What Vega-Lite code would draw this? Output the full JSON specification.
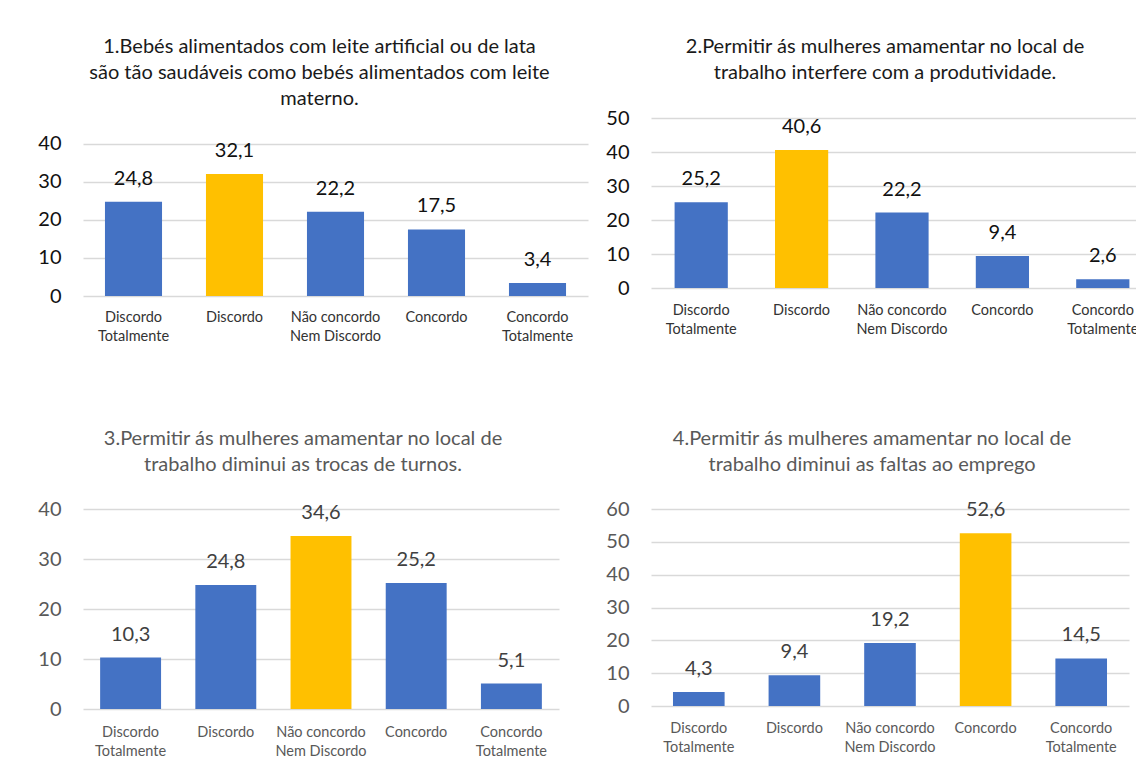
{
  "$schema": "https://vega.github.io/schema/vega-lite/v6.json",
  "background": "white",
  "padding": {"left": 37, "top": 37, "right": 0, "bottom": 0},
  "config": {
    "locale": {"number": {"decimal": ",", "thousands": ".", "grouping": [3], "currency": ["R$", ""]}},
    "view": {"stroke": null},
    "font": "Lato",
    "axisX": {
      "grid": false, "domain": false, "ticks": false, "labelAngle": 0,
      "labelFontSize": 14.5, "labelLineHeight": 19, "labelOverlap": false, "labelBaseline": "top",
      "labelExpr": "datum.label == 'Discordo Totalmente' ? ['Discordo', 'Totalmente'] : datum.label == 'Concordo Totalmente' ? ['Concordo', 'Totalmente'] : datum.label == 'Não  concordo Nem Discordo' ? ['Não  concordo', 'Nem Discordo'] : datum.label"
    },
    "axisY": {
      "grid": true, "gridColor": "#D9D9D9", "gridWidth": 1.5, "domain": false, "ticks": false,
      "labelFontSize": 20, "labelPadding": 22
    }
  },
  "datasets": {
    "q1": [
      {"resposta": "Discordo Totalmente", "pct": 24.8},
      {"resposta": "Discordo", "pct": 32.1},
      {"resposta": "Não  concordo Nem Discordo", "pct": 22.2},
      {"resposta": "Concordo", "pct": 17.5},
      {"resposta": "Concordo Totalmente", "pct": 3.4}
    ],
    "q2": [
      {"resposta": "Discordo Totalmente", "pct": 25.2},
      {"resposta": "Discordo", "pct": 40.6},
      {"resposta": "Não  concordo Nem Discordo", "pct": 22.2},
      {"resposta": "Concordo", "pct": 9.4},
      {"resposta": "Concordo Totalmente", "pct": 2.6}
    ],
    "q3": [
      {"resposta": "Discordo Totalmente", "pct": 10.3},
      {"resposta": "Discordo", "pct": 24.8},
      {"resposta": "Não  concordo Nem Discordo", "pct": 34.6},
      {"resposta": "Concordo", "pct": 25.2},
      {"resposta": "Concordo Totalmente", "pct": 5.1}
    ],
    "q4": [
      {"resposta": "Discordo Totalmente", "pct": 4.3},
      {"resposta": "Discordo", "pct": 9.4},
      {"resposta": "Não  concordo Nem Discordo", "pct": 19.2},
      {"resposta": "Concordo", "pct": 52.6},
      {"resposta": "Concordo Totalmente", "pct": 14.5}
    ]
  },
  "bounds": "flush",
  "spacing": 391,
  "vconcat": [
    {
      "bounds": "flush",
      "spacing": 63,
      "hconcat": [
        {
          "width": 505, "height": 178,
          "title": {"text": ["1.Bebés alimentados com leite artificial ou de lata", "são tão saudáveis como bebés alimentados com leite", "materno."], "dx": -16, "offset": 9, "fontSize": 20, "lineHeight": 26, "color": "#1a1a1a", "fontWeight": "normal", "font": "Lato"},
          "data": {"name": "q1"},
          "transform": [{"joinaggregate": [{"op": "max", "field": "pct", "as": "maximo"}]}],
          "encoding": {
            "x": {"field": "resposta", "type": "nominal", "sort": ["Discordo Totalmente", "Discordo", "Não  concordo Nem Discordo", "Concordo", "Concordo Totalmente"], "scale": {"paddingInner": 0.435, "paddingOuter": 0.2175}, "axis": {"title": null, "labelPadding": 14, "labelColor": "#333333"}},
            "y": {"field": "pct", "type": "quantitative", "scale": {"domain": [0, 46.84], "nice": false}, "axis": {"title": null, "values": [0, 10, 20, 30, 40], "labelColor": "#111111"}}
          },
          "layer": [
            {"mark": {"type": "bar"}, "encoding": {"color": {"condition": {"test": "datum.pct == datum.maximo", "value": "#FFC000"}, "value": "#4472C4"}}},
            {"mark": {"type": "text", "dy": -17, "baseline": "alphabetic", "fontSize": 20, "color": "#111111"}, "encoding": {"text": {"field": "pct", "type": "quantitative", "format": ".1f"}}}
          ]
        },
        {
          "width": 502, "height": 178,
          "title": {"text": ["2.Permitir ás mulheres amamentar no local de", "trabalho interfere com a produtividade."], "dx": -17, "offset": 25, "fontSize": 20, "lineHeight": 26, "color": "#1a1a1a", "fontWeight": "normal", "font": "Lato"},
          "data": {"name": "q2"},
          "transform": [{"joinaggregate": [{"op": "max", "field": "pct", "as": "maximo"}]}],
          "encoding": {
            "x": {"field": "resposta", "type": "nominal", "sort": ["Discordo Totalmente", "Discordo", "Não  concordo Nem Discordo", "Concordo", "Concordo Totalmente"], "scale": {"paddingInner": 0.47, "paddingOuter": 0.235}, "axis": {"title": null, "labelPadding": 7, "labelColor": "#333333"}},
            "y": {"field": "pct", "type": "quantitative", "scale": {"domain": [-2.35, 50], "nice": false}, "axis": {"title": null, "values": [0, 10, 20, 30, 40, 50], "labelColor": "#111111"}}
          },
          "layer": [
            {"mark": {"type": "bar"}, "encoding": {"color": {"condition": {"test": "datum.pct == datum.maximo", "value": "#FFC000"}, "value": "#4472C4"}}},
            {"mark": {"type": "text", "dy": -17, "baseline": "alphabetic", "fontSize": 20, "color": "#111111"}, "encoding": {"text": {"field": "pct", "type": "quantitative", "format": ".1f"}}}
          ]
        }
      ]
    },
    {
      "bounds": "flush",
      "spacing": 92,
      "hconcat": [
        {
          "width": 476, "height": 200,
          "title": {"text": ["3.Permitir ás mulheres amamentar no local de", "trabalho diminui as trocas de turnos."], "dx": -18, "offset": 24, "fontSize": 20, "lineHeight": 26, "color": "#595959", "fontWeight": "normal", "font": "Lato"},
          "data": {"name": "q3"},
          "transform": [{"joinaggregate": [{"op": "max", "field": "pct", "as": "maximo"}]}],
          "encoding": {
            "x": {"field": "resposta", "type": "nominal", "sort": ["Discordo Totalmente", "Discordo", "Não  concordo Nem Discordo", "Concordo", "Concordo Totalmente"], "scale": {"paddingInner": 0.36, "paddingOuter": 0.18}, "axis": {"title": null, "labelPadding": 16, "labelColor": "#595959"}},
            "y": {"field": "pct", "type": "quantitative", "scale": {"domain": [0, 40], "nice": false}, "axis": {"title": null, "values": [0, 10, 20, 30, 40], "labelColor": "#595959"}}
          },
          "layer": [
            {"mark": {"type": "bar"}, "encoding": {"color": {"condition": {"test": "datum.pct == datum.maximo", "value": "#FFC000"}, "value": "#4472C4"}}},
            {"mark": {"type": "text", "dy": -17, "baseline": "alphabetic", "fontSize": 20, "color": "#404040"}, "encoding": {"text": {"field": "pct", "type": "quantitative", "format": ".1f"}}}
          ]
        },
        {
          "width": 478, "height": 197,
          "title": {"text": ["4.Permitir ás mulheres amamentar no local de", "trabalho diminui as faltas ao emprego"], "dx": -18, "offset": 24, "fontSize": 20, "lineHeight": 26, "color": "#595959", "fontWeight": "normal", "font": "Lato"},
          "data": {"name": "q4"},
          "transform": [{"joinaggregate": [{"op": "max", "field": "pct", "as": "maximo"}]}],
          "encoding": {
            "x": {"field": "resposta", "type": "nominal", "sort": ["Discordo Totalmente", "Discordo", "Não  concordo Nem Discordo", "Concordo", "Concordo Totalmente"], "scale": {"paddingInner": 0.46, "paddingOuter": 0.23}, "axis": {"title": null, "labelPadding": 15, "labelColor": "#595959"}},
            "y": {"field": "pct", "type": "quantitative", "scale": {"domain": [0, 60], "nice": false}, "axis": {"title": null, "values": [0, 10, 20, 30, 40, 50, 60], "labelColor": "#595959"}}
          },
          "layer": [
            {"mark": {"type": "bar"}, "encoding": {"color": {"condition": {"test": "datum.pct == datum.maximo", "value": "#FFC000"}, "value": "#4472C4"}}},
            {"mark": {"type": "text", "dy": -17, "baseline": "alphabetic", "fontSize": 20, "color": "#404040"}, "encoding": {"text": {"field": "pct", "type": "quantitative", "format": ".1f"}}}
          ]
        }
      ]
    }
  ]
}
